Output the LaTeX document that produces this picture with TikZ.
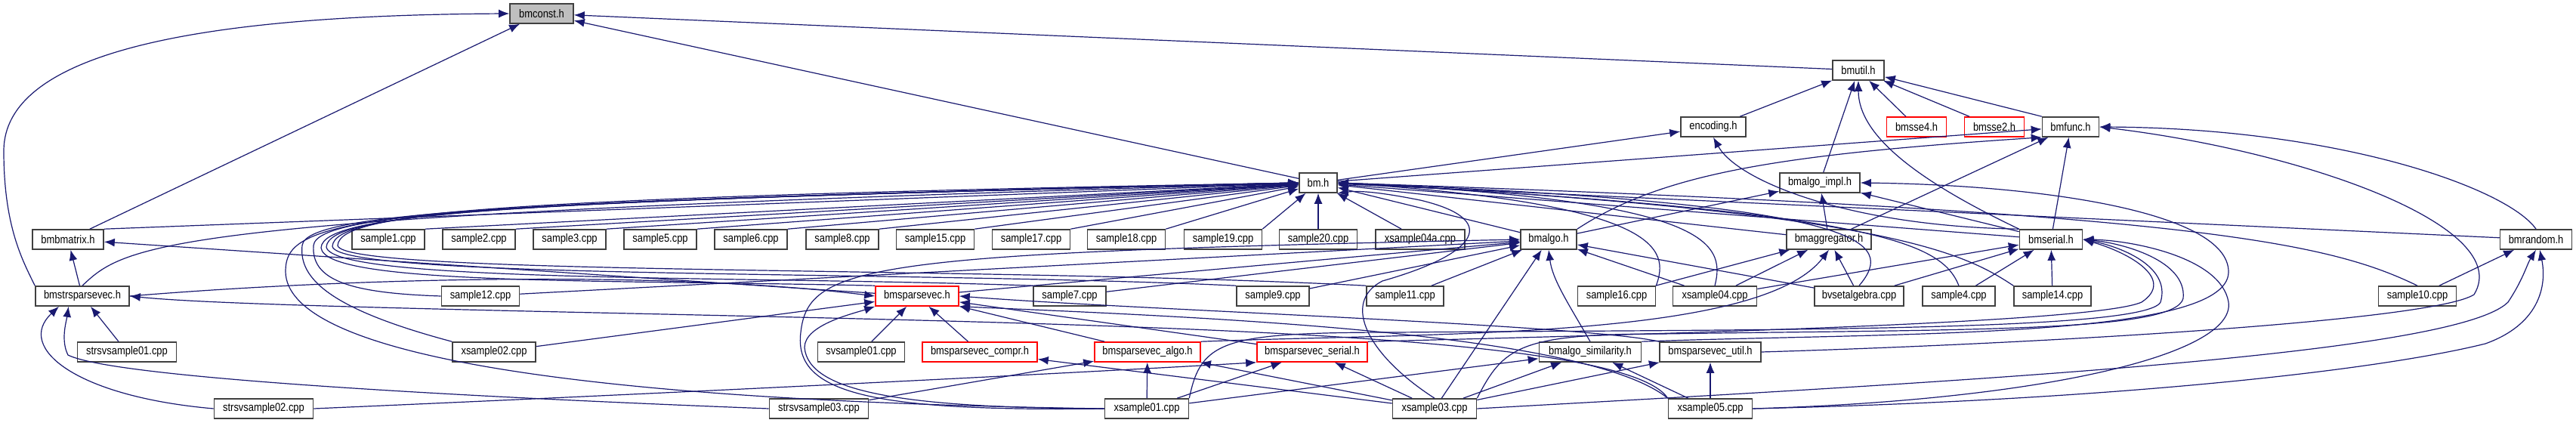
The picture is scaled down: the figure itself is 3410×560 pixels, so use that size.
\documentclass[tikz,border=0pt]{standalone}
\usepackage{fontspec}
\newfontfamily\dotfont{Liberation Sans}[FakeStretch=0.85]
\usetikzlibrary{arrows.meta}
\definecolor{eBlue}{HTML}{191970}
\definecolor{fRed}{HTML}{FF0000}
\definecolor{fGrey}{HTML}{BFBFBF}
\definecolor{fEdge}{HTML}{404040}
\tikzset{
  fl/.style  = {draw=fEdge, fill=white, line width=0.8pt, minimum width={#1*0.5pt},
                minimum height=13pt, inner sep=0pt,
                font=\dotfont\fontsize{7.6}{9}\selectfont},
  flr/.style = {fl=#1, draw=fRed},
  flg/.style = {fl=#1, fill=fGrey},
  ar/.style  = {-{Latex[length=7pt,width=5.5pt]}, draw=eBlue, line width=0.6pt},
}

\begin{document}
\begin{tikzpicture}[x=0.5pt, y=-0.5pt]
  \useasboundingbox (0,0) rectangle (3410,560);
  % headers, top rows
  \node[flg=84]  (bmconst)    at (717,18)   {bmconst.h};
  \node[fl=68]   (bmutil)     at (2460,93)  {bmutil.h};
  \node[fl=86]   (encoding)   at (2268,168) {encoding.h};
  \node[flr=79]  (bmssefour)  at (2537,168) {bmsse4.h};
  \node[flr=79]  (bmssetwo)   at (2640,168) {bmsse2.h};
  \node[fl=75]   (bmfunc)     at (2741,168) {bmfunc.h};
  \node[fl=50]   (bm)         at (1745,242) {bm.h};
  \node[fl=106]  (bmalgoimpl) at (2409,242) {bmalgo\_impl.h};
  % row 317
  \node[fl=94]   (bmbmatrix)  at (90,317)   {bmbmatrix.h};
  \node[fl=96]   (s1)         at (514,317)  {sample1.cpp};
  \node[fl=96]   (s2)         at (634,317)  {sample2.cpp};
  \node[fl=96]   (s3)         at (754,317)  {sample3.cpp};
  \node[fl=96]   (s5)         at (874,317)  {sample5.cpp};
  \node[fl=96]   (s6)         at (994,317)  {sample6.cpp};
  \node[fl=96]   (s8)         at (1115,317) {sample8.cpp};
  \node[fl=103]  (s15)        at (1238,317) {sample15.cpp};
  \node[fl=103]  (s17)        at (1365,317) {sample17.cpp};
  \node[fl=103]  (s18)        at (1491,317) {sample18.cpp};
  \node[fl=103]  (s19)        at (1619,317) {sample19.cpp};
  \node[fl=103]  (s20)        at (1745,317) {sample20.cpp};
  \node[fl=118]  (xs04a)      at (1880,317) {xsample04a.cpp};
  \node[fl=74]   (bmalgo)     at (2050,317) {bmalgo.h};
  \node[fl=112]  (bmaggregator) at (2421,317) {bmaggregator.h};
  \node[fl=83]   (bmserial)   at (2715,317) {bmserial.h};
  \node[fl=95]   (bmrandom)   at (3357,317) {bmrandom.h};
  % row 392
  \node[fl=124]  (bmstrsparsevec) at (109,392) {bmstrsparsevec.h};
  \node[fl=103]  (s12)        at (636,392)  {sample12.cpp};
  \node[flr=110] (bmsparsevec) at (1214,392) {bmsparsevec.h};
  \node[fl=96]   (s7)         at (1416,392) {sample7.cpp};
  \node[fl=96]   (s9)         at (1685,392) {sample9.cpp};
  \node[fl=102]  (s11)        at (1860,392) {sample11.cpp};
  \node[fl=103]  (s16)        at (2140,392) {sample16.cpp};
  \node[fl=111]  (xs04)       at (2270,392) {xsample04.cpp};
  \node[fl=118]  (bvsetalgebra) at (2461,392) {bvsetalgebra.cpp};
  \node[fl=96]   (s4)         at (2593,392) {sample4.cpp};
  \node[fl=102]  (s14)        at (2717,392) {sample14.cpp};
  \node[fl=103]  (s10)        at (3200,392) {sample10.cpp};
  % row 466
  \node[fl=131]  (strsv01)    at (168,466)  {strsvsample01.cpp};
  \node[fl=110]  (xs02)       at (654,466)  {xsample02.cpp};
  \node[fl=115]  (svs01)      at (1140,466) {svsample01.cpp};
  \node[flr=152] (bmsvcompr)  at (1297,466) {bmsparsevec\_compr.h};
  \node[flr=140] (bmsvalgo)   at (1519,466) {bmsparsevec\_algo.h};
  \node[flr=146] (bmsvserial) at (1737,466) {bmsparsevec\_serial.h};
  \node[fl=135]  (bmalgosim)  at (2105,466) {bmalgo\_similarity.h};
  \node[fl=134]  (bmsvutil)   at (2264,466) {bmsparsevec\_util.h};
  % row 541
  \node[fl=131]  (strsv02)    at (349,541)  {strsvsample02.cpp};
  \node[fl=131]  (strsv03)    at (1084,541) {strsvsample03.cpp};
  \node[fl=111]  (xs01)       at (1518,541) {xsample01.cpp};
  \node[fl=111]  (xs03)       at (1899,541) {xsample03.cpp};
  \node[fl=111]  (xs05)       at (2264,541) {xsample05.cpp};

  % samples on the bm.h row
  \foreach \a in {bmbmatrix, s1, s2, s3, s5, s6, s8, s15, s17, s18, s19}
    \draw[ar] (\a.north east) -- (bm);
  % straight includes
  \foreach \a/\b in {bmbmatrix/bmconst, bmutil/bmconst, bm/bmconst,
      encoding/bmutil, bmalgoimpl/bmutil, bmssefour/bmutil, bmssetwo/bmutil,
      bm/encoding, bm/bmfunc, bmaggregator/bmfunc, bmserial/bmfunc,
      bmalgo/bmalgoimpl, bmaggregator/bmalgoimpl, bmserial/bmalgoimpl,
      s20/bm, xs04a/bm, bmalgo/bm, bmaggregator/bm, bmserial/bm, bmrandom/bm,
      bmstrsparsevec/bmbmatrix, bmsparsevec/bmbmatrix,
      s7/bmalgo, s9/bmalgo, s11/bmalgo, s12/bmalgo, bmsparsevec/bmalgo, xs04/bmalgo,
      bvsetalgebra/bmalgo, xs03/bmalgo,
      s16/bmaggregator, xs04/bmaggregator, bvsetalgebra/bmaggregator,
      xs04/bmserial, bvsetalgebra/bmserial, s4/bmserial, s14/bmserial, s10/bmrandom,
      strsv01/bmstrsparsevec,
      svs01/bmsparsevec, bmsvcompr/bmsparsevec, bmsvalgo/bmsparsevec, bmsvserial/bmsparsevec,
      xs02/bmsparsevec,
      xs01/bmsvalgo, strsv03/bmsvalgo, xs03/bmsvalgo, xs01/bmsvserial, xs03/bmsvserial,
      xs03/bmsvcompr, xs03/bmalgosim, xs05/bmalgosim, xs01/bmalgosim,
      xs05/bmsvutil, xs03/bmsvutil}
    \draw[ar] (\a) -- (\b);

  % routed includes, top
  \draw[ar] (bmfunc.north west) -- (bmutil);
  \draw[ar] (bmstrsparsevec.north west) .. controls (30,345) and (5,300) .. (5,200)
            .. controls (5,60) and (300,20) .. (bmconst.west);
  \draw[ar] (bmserial.north west) .. controls (2540,240) and (2460,180) .. (bmutil.south);
  \draw[ar] (bmserial.north west) .. controls (2450,300) and (2300,240) .. (encoding.south);
  \draw[ar] (bmalgo.north east) .. controls (2200,230) and (2350,205) .. (bmfunc.south west);
  \draw[ar] (bmrandom.north) .. controls (3320,250) and (3100,170) .. (bmfunc.east);
  \draw[ar] (bmsvutil.east) .. controls (2700,455) and (3220,425) .. (3275,390)
            .. controls (3330,300) and (3050,200) .. (bmfunc.east);
  \draw[ar] (bmalgosim.north east) .. controls (2500,440) and (2950,450) .. (2950,360)
            .. controls (2950,280) and (2700,245) .. (bmalgoimpl.east);
  % loops into bm.h from the left
  \draw[ar] (bmstrsparsevec.north) .. controls (170,320) and (220,285) .. (bm);
  \draw[ar] (xs01.west) .. controls (700,530) and (380,460) .. (378,360)
            .. controls (378,290) and (450,265) .. (bm.west);
  \draw[ar] (xs02.north west) .. controls (440,410) and (395,370) .. (400,325)
            .. controls (405,280) and (700,266) .. (bm.west);
  \draw[ar] (s12.west) .. controls (460,388) and (412,370) .. (415,325)
            .. controls (420,280) and (700,266) .. (bm.west);
  \draw[ar] (bmsparsevec.north west) .. controls (800,370) and (430,378) .. (425,328)
            .. controls (428,280) and (700,266) .. (bm.west);
  \draw[ar] (s7.north west) .. controls (1000,365) and (440,375) .. (432,327)
            .. controls (435,279) and (700,266) .. (bm.west);
  \draw[ar] (s9.north west) .. controls (1200,358) and (445,370) .. (440,326)
            .. controls (443,278) and (700,266) .. (bm.west);
  \draw[ar] (s11.north west) .. controls (1300,352) and (452,365) .. (447,325)
            .. controls (450,277) and (700,266) .. (bm.west);
  % loops into bm.h from the right
  \draw[ar] (s16.north east) .. controls (2210,330) and (2200,270) .. (bm.east);
  \draw[ar] (xs04.north) .. controls (2285,320) and (2260,265) .. (bm.east);
  \draw[ar] (bvsetalgebra.north) .. controls (2510,320) and (2480,270) .. (bm.east);
  \draw[ar] (s4.north) .. controls (2570,320) and (2480,280) .. (bm.east);
  \draw[ar] (s14.north west) .. controls (2600,335) and (2500,280) .. (bm.east);
  \draw[ar] (s10.north) .. controls (3080,320) and (2900,280) .. (bm.east);
  \draw[ar] (xs03.north) .. controls (1810,470) and (1775,400) .. (1830,372)
            .. controls (1960,335) and (1985,290) .. (1880,265)
            .. controls (1830,255) and (1800,252) .. (bm.south east);
  % middle rows
  \draw[ar] (bmsvalgo.north east) .. controls (1900,440) and (2330,450) .. (bmaggregator.south);
  \draw[ar] (bmalgosim.north) .. controls (2075,400) and (2055,370) .. (bmalgo.south);
  \draw[ar] (xs01.west) .. controls (1150,545) and (1050,520) .. (1060,440)
            .. controls (1070,350) and (1150,335) .. (bmalgo.west);
  \draw[ar] (xs01.west) .. controls (1200,540) and (1070,520) .. (1065,460)
            .. controls (1065,430) and (1130,415) .. (bmsparsevec.south west);
  \draw[ar] (bmstrsparsevec.east) .. controls (500,365) and (900,360) .. (bmsparsevec.west);
  \draw[ar] (xs05.north west) .. controls (2100,440) and (1600,420) .. (bmsparsevec.south east);
  \draw[ar] (bmsvutil.north west) .. controls (2100,430) and (1500,410) .. (bmsparsevec.east);
  \draw[ar] (strsv02.east) .. controls (900,520) and (1400,495) .. (bmsvserial.south west);
  % bmserial.h from below
  \draw[ar] (bmsvserial.north east) .. controls (2300,440) and (2780,425) .. (2835,400)
            .. controls (2880,370) and (2820,335) .. (bmserial.east);
  \draw[ar] (xs01.north east) .. controls (1590,450) and (1620,440) .. (1850,440)
            .. controls (2300,436) and (2840,440) .. (2860,400)
            .. controls (2875,350) and (2800,325) .. (bmserial.east);
  \draw[ar] (xs03.north east) .. controls (1990,460) and (2010,442) .. (2200,442)
            .. controls (2600,436) and (2880,440) .. (2890,395)
            .. controls (2895,345) and (2810,322) .. (bmserial.east);
  \draw[ar] (xs05.east) .. controls (2700,530) and (2960,470) .. (2950,400)
            .. controls (2940,340) and (2820,318) .. (bmserial.east);
  % bmrandom.h from below
  \draw[ar] (xs03.east) .. controls (2600,505) and (3250,470) .. (3320,400)
            .. controls (3340,370) and (3345,350) .. (bmrandom.south);
  \draw[ar] (xs05.east) .. controls (2800,530) and (3150,490) .. (3290,455)
            .. controls (3360,430) and (3372,380) .. (bmrandom.290);
  % bmstrsparsevec.h from below and right
  \draw[ar] (strsv02.west) .. controls (100,525) and (20,460) .. (bmstrsparsevec.204);
  \draw[ar] (strsv03.west) .. controls (600,525) and (150,500) .. (90,470)
            .. controls (80,450) and (88,425) .. (bmstrsparsevec.217);
  \draw[ar] (xs05.north west) .. controls (2150,440) and (1500,430) .. (700,412)
            .. controls (400,405) and (250,400) .. (bmstrsparsevec.east);
\end{tikzpicture}
\end{document}
